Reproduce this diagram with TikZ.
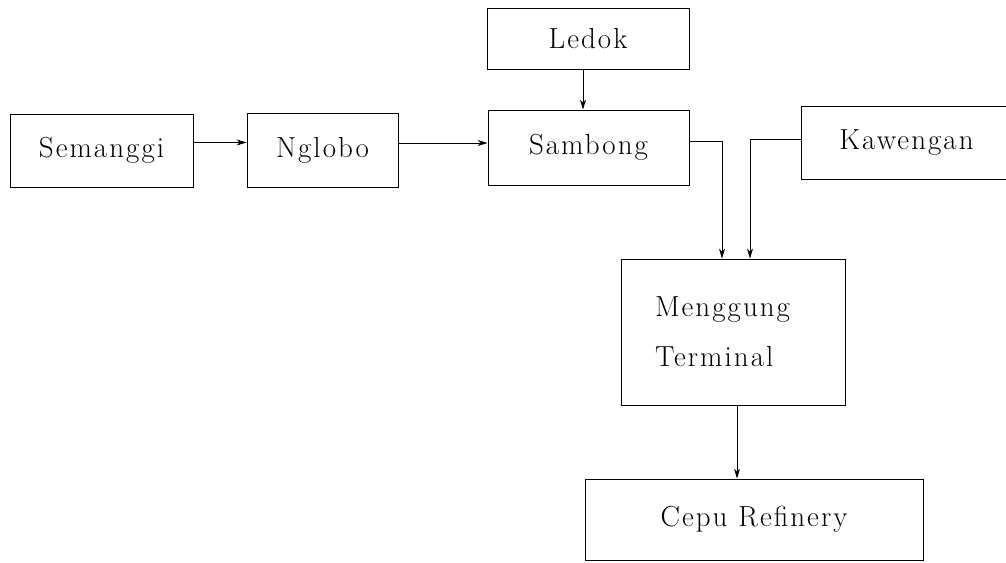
\documentclass[tikz,border=0pt]{standalone}
\usepackage{fontspec}
\setmainfont{Latin Modern Roman}[LetterSpace=7]
\usetikzlibrary{arrows.meta}
\tikzset{
  field/.style={draw, line width=0.9pt, inner sep=0pt, font=\fontsize{29}{50}\selectfont},
  flow/.style={line width=0.8pt, -{Stealth[length=10pt,width=6pt]}}
}
\begin{document}
\begin{tikzpicture}[x=1pt,y=-1pt]
  \useasboundingbox (0,0) rectangle (1006,562);
  % fields and terminal
  \node[field, minimum width=183pt, minimum height=73pt] (semanggi) at (101.5,150.5) {Semanggi};
  \node[field, minimum width=151pt, minimum height=74pt] (nglobo) at (322.5,150) {Nglobo};
  \node[field, minimum width=202pt, minimum height=61pt] (ledok) at (588,38.5) {Ledok};
  \node[field, minimum width=201pt, minimum height=75pt] (sambong) at (588.5,147.5) {Sambong};
  \node[field, minimum width=211pt, minimum height=73pt] (kawengan) at (906.5,142.5) {Kawengan};
  \node[field, minimum width=224pt, minimum height=146pt, align=left,
        text width=156pt, inner xsep=34pt] (menggung) at (733,332) {Menggung\\Terminal};
  \node[field, minimum width=338pt, minimum height=81pt] (cepu) at (754,519.5) {Cepu Refinery};
  % pipelines
  \draw[flow] ([yshift=8pt]semanggi.east) -- ([yshift=8pt]semanggi.east -| nglobo.west);
  \draw[flow] ([yshift=7pt]nglobo.east) -- ([yshift=7pt]nglobo.east -| sambong.west);
  \draw[flow] ([xshift=-5pt]ledok.south) -- ([xshift=-5pt]ledok.south |- sambong.north);
  \draw[flow] ([yshift=6.5pt]sambong.east) -| ([xshift=-11pt]menggung.north);
  \draw[flow] ([yshift=3.5pt]kawengan.west) -| ([xshift=17pt]menggung.north);
  \draw[flow] ([xshift=4pt]menggung.south) -- ([xshift=4pt]menggung.south |- cepu.north);
\end{tikzpicture}
\end{document}
